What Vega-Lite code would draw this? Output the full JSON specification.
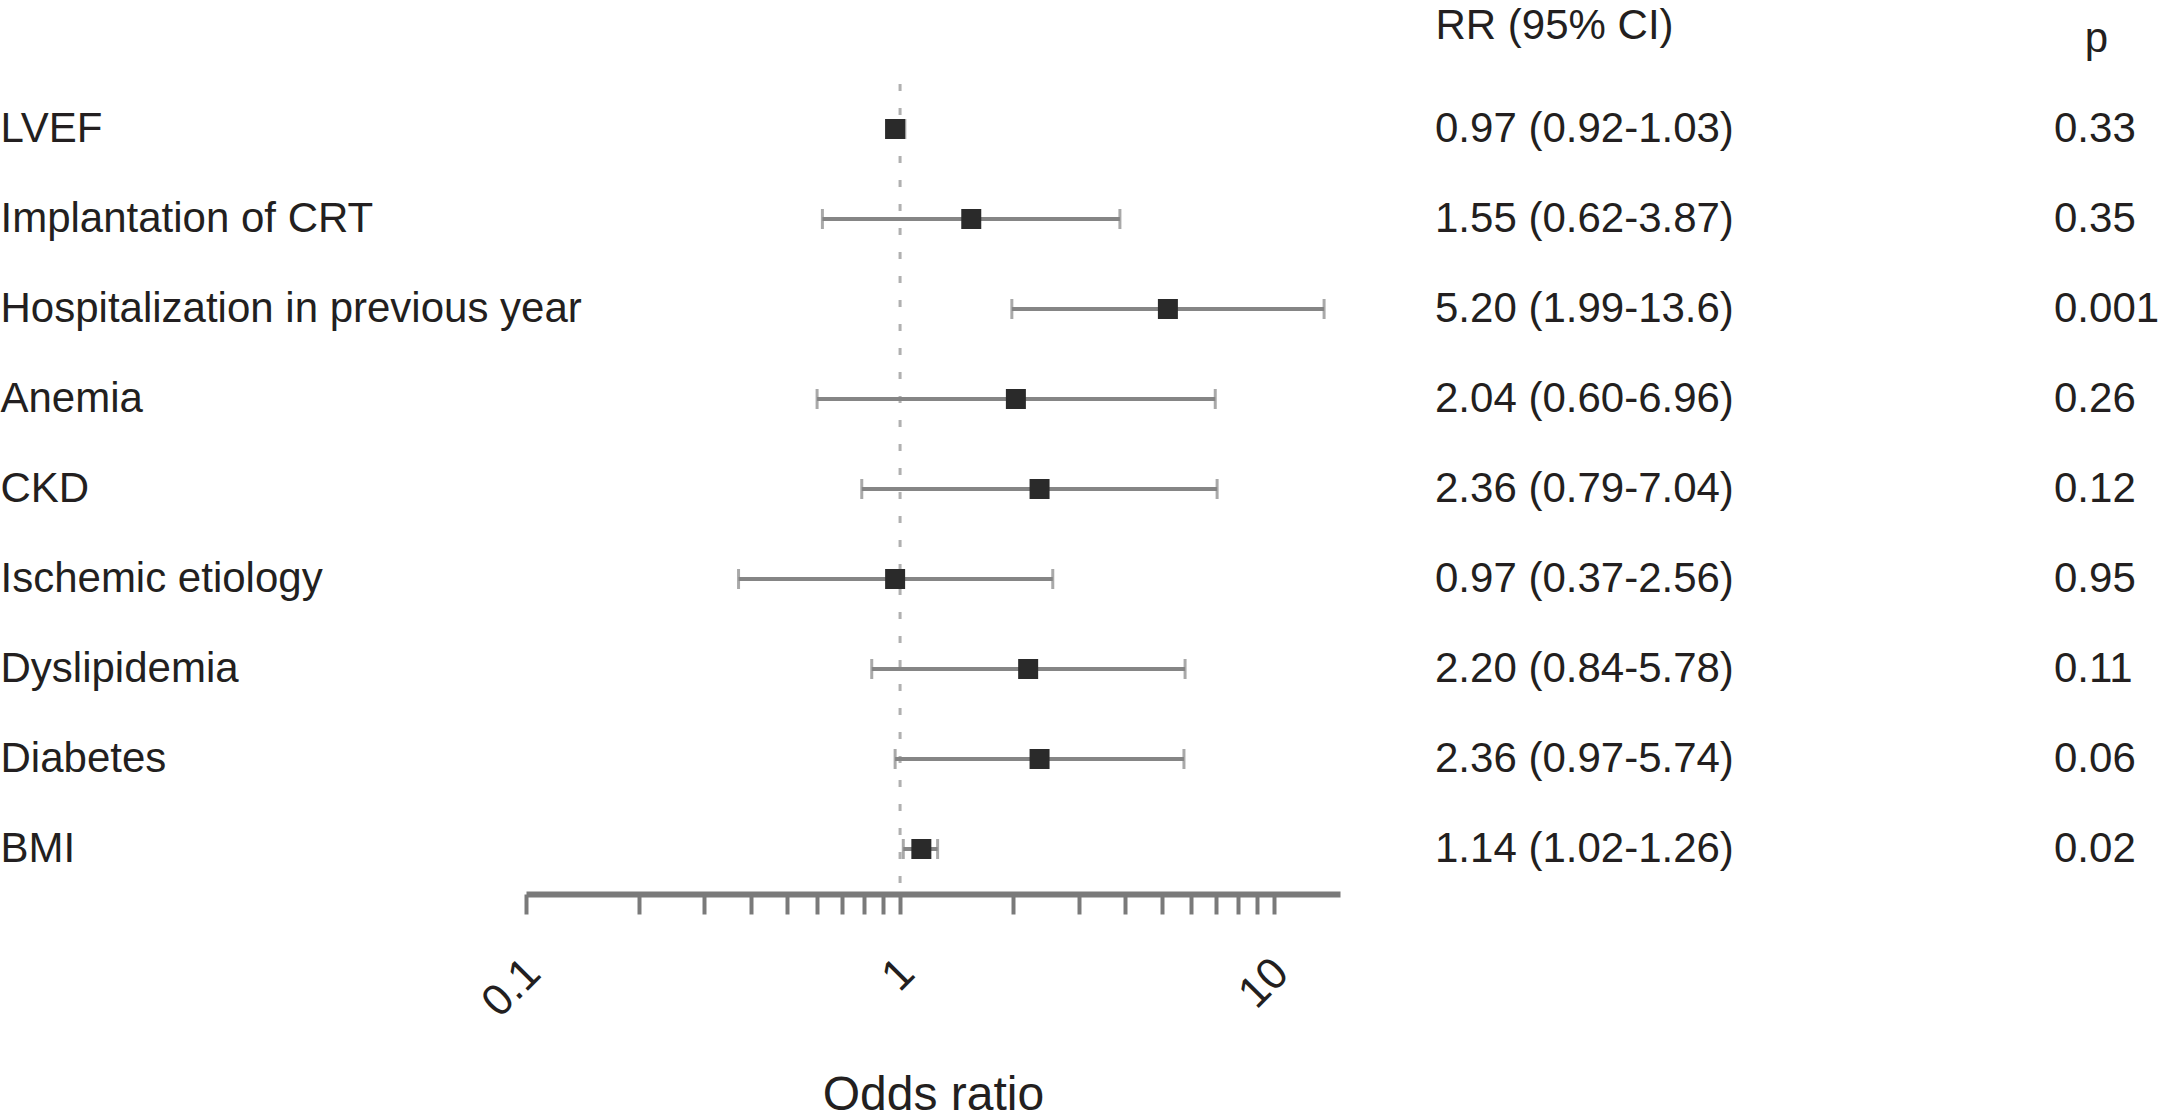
{
  "$schema": "https://vega.github.io/schema/vega-lite/v6.json",
  "padding": {"left": 0, "top": 4, "right": 0, "bottom": 0},
  "background": "white",
  "spacing": 95,
  "config": {"view": {"stroke": null}, "font": "Liberation Sans"},
  "data": {"values": [
    {"label": "LVEF", "or": 0.97, "lo": 0.92, "hi": 1.03, "ci": "0.97 (0.92-1.03)", "p": "0.33"},
    {"label": "Implantation of CRT", "or": 1.55, "lo": 0.62, "hi": 3.87, "ci": "1.55 (0.62-3.87)", "p": "0.35"},
    {"label": "Hospitalization in previous year", "or": 5.20, "lo": 1.99, "hi": 13.6, "ci": "5.20 (1.99-13.6)", "p": "0.001"},
    {"label": "Anemia", "or": 2.04, "lo": 0.60, "hi": 6.96, "ci": "2.04 (0.60-6.96)", "p": "0.26"},
    {"label": "CKD", "or": 2.36, "lo": 0.79, "hi": 7.04, "ci": "2.36 (0.79-7.04)", "p": "0.12"},
    {"label": "Ischemic etiology", "or": 0.97, "lo": 0.37, "hi": 2.56, "ci": "0.97 (0.37-2.56)", "p": "0.95"},
    {"label": "Dyslipidemia", "or": 2.20, "lo": 0.84, "hi": 5.78, "ci": "2.20 (0.84-5.78)", "p": "0.11"},
    {"label": "Diabetes", "or": 2.36, "lo": 0.97, "hi": 5.74, "ci": "2.36 (0.97-5.74)", "p": "0.06"},
    {"label": "BMI", "or": 1.14, "lo": 1.02, "hi": 1.26, "ci": "1.14 (1.02-1.26)", "p": "0.02"}
  ]},
  "hconcat": [
    {
      "width": 814,
      "height": 810,
      "layer": [
        {
          "data": {"values": [{"ref": 1}]},
          "mark": {"type": "rule", "color": "#b0b0b0", "strokeWidth": 3, "strokeDash": [7, 17]},
          "encoding": {
            "x": {"field": "ref", "type": "quantitative", "scale": {"type": "log", "domain": [0.1, 15], "nice": false}, "title": "Odds ratio"}
          }
        },
        {
          "mark": {"type": "rule", "color": "#858585", "strokeWidth": 4},
          "encoding": {
            "x": {
              "field": "lo", "type": "quantitative",
              "scale": {"type": "log", "domain": [0.1, 15], "nice": false},
              "title": "Odds ratio",
              "axis": {
                "title": "Odds ratio",
                "values": [0.1, 0.2, 0.3, 0.4, 0.5, 0.6, 0.7, 0.8, 0.9, 1, 2, 3, 4, 5, 6, 7, 8, 9, 10],
                "labelExpr": "datum.value == 0.1 ? '0.1' : datum.value == 1 ? '1' : datum.value == 10 ? '10' : ''",
                "grid": false,
                "domainColor": "#7a7a7a",
                "domainWidth": 6,
                "tickColor": "#7a7a7a",
                "tickWidth": 4,
                "tickSize": 20,
                "labelAngle": -45,
                "labelAlign": "right",
                "labelBaseline": "middle",
                "labelPadding": 52,
                "labelOffset": 7,
                "labelFontSize": 44,
                "labelColor": "#231f20",
                "labelFlush": false,
                "labelOverlap": false,
                "titleFontSize": 48,
                "titleFontWeight": "normal",
                "titleColor": "#231f20",
                "titlePadding": 47,
                "encode": {"ticks": {"update": {"y2": {"signal": "indexof([0.1,1,10], datum.value) >= 0 ? 20 : 12"}}}}
              }
            },
            "x2": {"field": "hi"},
            "y": {
              "field": "label", "type": "nominal",
              "sort": ["LVEF", "Implantation of CRT", "Hospitalization in previous year", "Anemia", "CKD", "Ischemic etiology", "Dyslipidemia", "Diabetes", "BMI"],
              "scale": {"type": "band", "paddingInner": 0, "paddingOuter": 0},
              "axis": {"title": null, "domain": false, "ticks": false, "tickSize": 0, "labelAlign": "left", "labelBaseline": "middle", "labelPadding": 526, "labelFontSize": 42, "labelColor": "#231f20", "labelLimit": 0}
            }
          }
        },
        {
          "mark": {"type": "tick", "color": "#858585", "thickness": 3, "size": 20},
          "encoding": {
            "x": {"field": "lo", "type": "quantitative", "title": "Odds ratio"},
            "y": {"field": "label", "type": "nominal", "sort": ["LVEF", "Implantation of CRT", "Hospitalization in previous year", "Anemia", "CKD", "Ischemic etiology", "Dyslipidemia", "Diabetes", "BMI"]}
          }
        },
        {
          "mark": {"type": "tick", "color": "#858585", "thickness": 3, "size": 20},
          "encoding": {
            "x": {"field": "hi", "type": "quantitative", "title": "Odds ratio"},
            "y": {"field": "label", "type": "nominal", "sort": ["LVEF", "Implantation of CRT", "Hospitalization in previous year", "Anemia", "CKD", "Ischemic etiology", "Dyslipidemia", "Diabetes", "BMI"]}
          }
        },
        {
          "mark": {"type": "square", "color": "#2a2a2a", "size": 400, "opacity": 1},
          "encoding": {
            "x": {"field": "or", "type": "quantitative", "title": "Odds ratio"},
            "y": {"field": "label", "type": "nominal", "sort": ["LVEF", "Implantation of CRT", "Hospitalization in previous year", "Anemia", "CKD", "Ischemic etiology", "Dyslipidemia", "Diabetes", "BMI"]}
          }
        }
      ]
    },
    {
      "width": 661,
      "height": 810,
      "encoding": {
        "y": {
          "field": "label", "type": "nominal",
          "sort": ["LVEF", "Implantation of CRT", "Hospitalization in previous year", "Anemia", "CKD", "Ischemic etiology", "Dyslipidemia", "Diabetes", "BMI"],
          "scale": {"type": "band", "paddingInner": 0, "paddingOuter": 0},
          "axis": null
        }
      },
      "layer": [
        {
          "mark": {"type": "text", "align": "left", "baseline": "middle", "fontSize": 42, "color": "#231f20"},
          "encoding": {
            "x": {
              "datum": "ci", "type": "nominal",
              "scale": {"type": "point", "domain": ["ci", "p"], "padding": 0},
              "axis": {
                "orient": "top", "title": null, "domain": false, "ticks": false, "tickSize": 0,
                "labelAngle": 0,
                "labelLimit": 0,
                "labelExpr": "datum.value == 'ci' ? 'RR (95% CI)' : 'p'",
                "labelAlign": {"condition": {"test": "datum.value == 'p'", "value": "center"}, "value": "left"},
                "labelBaseline": {"condition": {"test": "datum.value == 'p'", "value": "middle"}, "value": "alphabetic"},
                "labelPadding": 46, "labelFontSize": 42, "labelColor": "#231f20"
              }
            },
            "text": {"field": "ci"}
          }
        },
        {
          "mark": {"type": "text", "align": "left", "baseline": "middle", "fontSize": 42, "color": "#231f20", "dx": -42},
          "encoding": {
            "x": {"datum": "p", "type": "nominal"},
            "text": {"field": "p"}
          }
        }
      ]
    }
  ]
}
